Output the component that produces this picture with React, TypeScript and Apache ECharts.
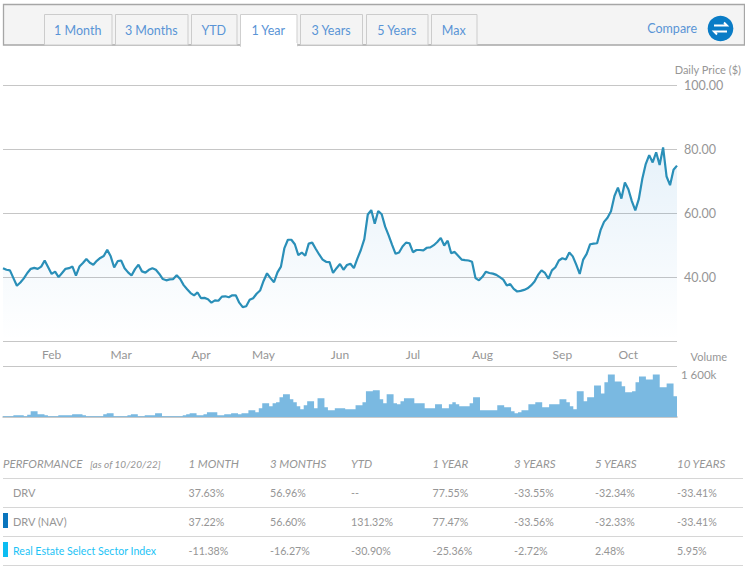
import React, { useEffect, useRef } from "react";
import * as echarts from "echarts";

const monthTicks: Record<number, string> = { 14: "Feb", 34: "Mar", 57: "Apr", 75: "May", 97: "Jun", 118: "Jul", 138: "Aug", 161: "Sep", 180: "Oct" };

const priceJanMar = [42.8,42.3,42.1,39.7,37.3,38.3,39.6,41.3,42.6,42.9,42.6,43.3,45.2,43.1,41.0,41.7,40.0,41.3,42.6,42.8,43.3,40.5,43.3,44.4,45.7,44.5,43.9,45.1,46.0,46.6,48.6,46.5,43.0,45.0,45.2,42.8,41.5,40.5,42.5,43.9,41.8,41.4,42.3,42.8,42.3,41.0,39.4,39.0,39.3,39.4,40.6,39.4];
const priceAprMay = [37.5,36.2,35.0,34.3,35.2,33.4,33.5,33.1,32.0,32.7,32.6,33.9,34.0,33.7,34.3,34.3,32.0,30.6,30.9,32.9,33.4,34.8,35.8,38.8,41.2,39.7,38.4,41.5,43.3,49.1,51.7,51.7,50.3,46.9,47.7,46.7,50.5,50.8,48.9,47.1,45.5,44.8,44.7,41.3,42.8,44.1,42.3,43.8,44.2];
const priceJunAug = [42.8,45.8,48.5,51.9,59.6,61.0,56.7,60.7,59.7,55.8,53.1,50.1,47.3,47.7,49.6,50.8,50.6,47.8,48.5,48.5,48.4,49.2,49.3,50.0,51.0,52.3,49.9,51.4,47.5,47.9,46.7,45.5,45.3,45.2,44.8,39.7,39.0,40.1,41.7,41.3,41.1,40.7,40.0,39.2,37.4,37.8,36.3,35.5,35.7];
const priceAugOct = [36.0,36.5,37.4,38.6,40.7,42.1,41.3,39.5,42.1,43.1,45.2,45.9,45.5,47.7,46.5,43.9,41.0,45.5,47.3,50.3,50.5,50.6,54.7,57.3,58.6,60.6,65.4,68.0,64.6,69.6,67.5,63.8,60.9,64.4,70.7,75.4,78.2,75.9,79.1,75.1,80.6,71.5,68.8,73.6,74.9];
const prices = [...priceJanMar, ...priceAprMay, ...priceJunAug, ...priceAugOct];

const volumesFirst = [25,25,25,62,62,62,25,87,211,211,99,99,62,25,25,25,62,62,62,62,99,99,99,62,25,25,25,25,25,99,136,136,25,25,25,25,62,99,99,25,25,62,62,62,136,136,25,25,25,25,25,25,62,99,136,136,62,62,99,174,174,174,62,62,99,99,136,136,99,136,136,248,248,174,322,508,508,397,508,546,732,843,843,657,546,397,285,434,583,583,322,694,694,360,248,248,322,322,322,285];
const volumesSecond = [285,285,434,434,546,955,955,992,992,657,508,843,843,508,471,583,694,694,694,508,508,508,322,322,322,471,471,322,322,471,546,471,397,397,397,508,732,732,248,248,248,248,248,434,434,360,360,211,136,174,248,248,471,471,546,546,360,360,471,471,471,657,657,546,397,285,955,955,583,732,732,1178,1178,880,1290,1587,1587,1327,1327,1141,918,918,955,1290,1513,1513,1401,1401,1587,1587,1104,1104,1252,1252,769,769];
const volumes = [...volumesFirst, ...volumesSecond];

const tabs = ["1 Month", "3 Months", "YTD", "1 Year", "3 Years", "5 Years", "Max"];
const tabEdges = [[44, 111.5], [115, 187.5], [191, 236.5], [240, 296.5], [300, 362], [366, 427.5], [431, 476.5]];
const tableHeaders = ["1 MONTH", "3 MONTHS", "YTD", "1 YEAR", "3 YEARS", "5 YEARS", "10 YEARS"];
const tableNames = ["DRV", "DRV (NAV)", "Real Estate Select Sector Index"];
const tableRows = [
  ["37.63%", "56.96%", "--", "77.55%", "-33.55%", "-32.34%", "-33.41%"],
  ["37.22%", "56.60%", "131.32%", "77.47%", "-33.56%", "-32.33%", "-33.41%"],
  ["-11.38%", "-16.27%", "-30.90%", "-25.36%", "-2.72%", "2.48%", "5.95%"],
];
const columnX = [188.5, 270, 351, 432.5, 514, 595, 677];
const rowY = [492.7, 521.7, 550.7];
const ruleY = [478.5, 507.5, 536.5, 565.5];

const FONT = "Lato";
const GREY = "#969696";
const RULE = "#c6c6c6";
const LINK = "#5a94d6";

const txt = (text: string, x: number, y: number, style: any = {}) => ({
  type: "text", x, y, silent: true,
  style: { text, fontFamily: FONT, fontSize: 12, fill: GREY, verticalAlign: "middle", align: "left", ...style },
});
const rect = (x: number, y: number, w: number, h: number, style: any) => ({ type: "rect", silent: true, shape: { x, y, width: w, height: h }, style });
const hline = (x1: number, x2: number, y: number, stroke = RULE, lineWidth = 1) => ({ type: "line", silent: true, shape: { x1, y1: y, x2, y2: y }, style: { stroke, lineWidth } });

function buildGraphics() {
  const g: any[] = [];
  g.push(rect(3.5, 4.5, 741, 40.5, { fill: "#f4f4f4", stroke: "#a6a6a6", lineWidth: 1.3 }));
  tabs.forEach((t, i) => {
    const [a, b] = tabEdges[i];
    const active = t === "1 Year";
    g.push(rect(a + 0.5, 14.5, b - a, active ? 32 : 30.5, { fill: active ? "#ffffff" : "#f4f4f4", stroke: active ? "#cfcfcf" : "#cccccc", lineWidth: 1 }));
    if (active) g.push(rect(a + 1, 43, b - a - 0.5, 5, { fill: "#ffffff" }));
    g.push(txt(t, (a + b) / 2, 30, { align: "center", fontSize: 12.5, fill: LINK }));
  });
  g.push(txt("Compare", 697, 28, { align: "right", fontSize: 12.5, fill: LINK }));
  g.push({ type: "circle", silent: true, shape: { cx: 720.5, cy: 28.5, r: 12.8 }, style: { fill: "#0a7cc6" } });
  g.push({ type: "polyline", silent: true, shape: { points: [[714, 25.5], [727, 25.5], [724, 22.5]] }, style: { stroke: "#fff", lineWidth: 1.9, fill: "none" } });
  g.push({ type: "polyline", silent: true, shape: { points: [[727, 31.5], [714, 31.5], [717, 34.5]] }, style: { stroke: "#fff", lineWidth: 1.9, fill: "none" } });

  g.push(txt("Daily Price ($)", 741, 69, { align: "right", fontSize: 11 }));
  g.push(txt("Volume", 727, 356, { align: "right", fontSize: 11 }));
  g.push(hline(3, 677, 366.5));

  g.push(txt("PERFORMANCE", 3, 463, { fontStyle: "italic", fontSize: 11.5 }));
  g.push(txt("[as of 10/20/22]", 90, 463.5, { fontStyle: "italic", fontSize: 10 }));
  tableHeaders.forEach((h, i) => g.push(txt(h, columnX[i], 463, { fontStyle: "italic", fontSize: 11.5 })));
  ruleY.forEach((y) => g.push(hline(3, 743, y, "#d6d6d6")));
  tableNames.forEach((n, r) => {
    g.push(txt(n, 13, rowY[r], { fontSize: r === 2 ? 10.6 : 11, fill: r === 2 ? "#1cc3f6" : GREY }));
    tableRows[r].forEach((v, c) => g.push(txt(v, columnX[c], rowY[r], { fontSize: 10.7 })));
  });
  g.push(rect(3, 513, 5, 15, { fill: "#0a75bd" }));
  g.push(rect(3, 542, 5, 15, { fill: "#0dbdf2" }));
  return g;
}

export default function App() {
  const ref = useRef<HTMLDivElement>(null);
  useEffect(() => {
    const chart = echarts.init(ref.current!, undefined, { renderer: "svg" });
    const cats = prices.map((_, i) => `d${i}`);
    const volumeCats = volumes.map((_, i) => `v${i}`);
    chart.setOption({
      animation: false,
      backgroundColor: "#ffffff",
      textStyle: { fontFamily: FONT },
      grid: [
        { left: 3, right: 68, top: 85.5, height: 255.5 },
        { left: 3, right: 68, top: 366, height: 51 },
      ],
      xAxis: [
        {
          type: "category", gridIndex: 0, data: cats, boundaryGap: false,
          axisLine: { show: false }, axisTick: { show: false },
          axisLabel: {
            interval: (i: number) => monthTicks[i] !== undefined,
            formatter: (_: string, i: number) => monthTicks[i] ?? "",
            color: GREY, fontSize: 12, fontFamily: FONT, margin: 7,
          },
        },
        {
          type: "category", gridIndex: 1, data: volumeCats, boundaryGap: false,
          axisLine: { show: true, lineStyle: { color: "#b8b8b8", width: 1.5 } },
          axisTick: { show: false }, axisLabel: { show: false },
        },
      ],
      yAxis: [
        {
          type: "value", gridIndex: 0, position: "right", min: 20, max: 100, interval: 20,
          axisLine: { show: false }, axisTick: { show: false },
          splitLine: { lineStyle: { color: RULE, width: 1 } },
          axisLabel: {
            formatter: (v: number) => (v === 20 ? "" : v.toFixed(2)),
            color: GREY, fontSize: 12.5, fontFamily: FONT, margin: 7,
          },
        },
        {
          type: "value", gridIndex: 1, position: "right", min: 0, max: 1900, interval: 1600,
          axisLine: { show: false }, axisTick: { show: false }, splitLine: { show: false },
          axisLabel: {
            formatter: (v: number) => (v === 1600 ? "1 600k" : ""),
            color: GREY, fontSize: 11.5, fontFamily: FONT, margin: 4,
          },
        },
      ],
      series: [
        {
          type: "line", xAxisIndex: 0, yAxisIndex: 0, data: prices, showSymbol: false, smooth: false,
          lineStyle: { color: "#2a8fb8", width: 2.2 },
          areaStyle: {
            color: new echarts.graphic.LinearGradient(0, 0, 0, 1, [
              { offset: 0, color: "rgba(0,115,200,0.14)" },
              { offset: 1, color: "rgba(0,115,200,0)" },
            ]),
          },
        },
        {
          type: "line", step: "end", xAxisIndex: 1, yAxisIndex: 1, data: volumes, showSymbol: false,
          lineStyle: { width: 0 },
          areaStyle: { color: "#7ab9e1", opacity: 1 },
        },
      ],
      graphic: buildGraphics(),
    });
    return () => chart.dispose();
  }, []);
  return <div ref={ref} style={{ position: "absolute", left: 0, top: 0, width: 745, height: 570 }} />;
}
